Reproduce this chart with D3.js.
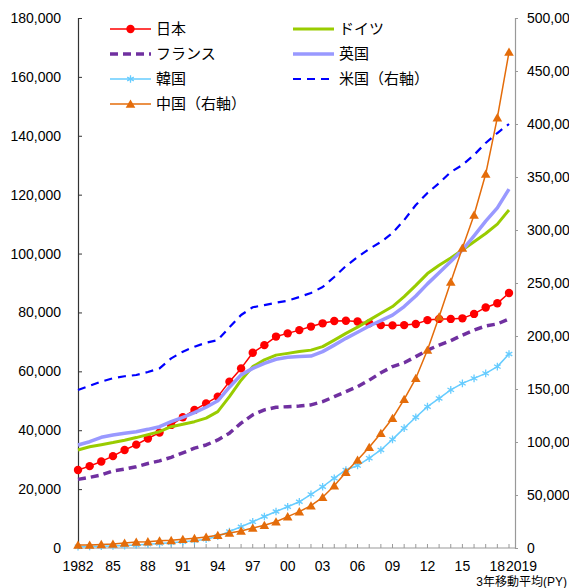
<!DOCTYPE html>
<html>
<head>
<meta charset="utf-8">
<script src="https://cdn.jsdelivr.net/npm/d3@7"></script>
<style>
  body { margin: 0; background: #fff; }
  svg { display: block; }
  text { font-family: "Liberation Sans", Arial, "Noto Sans CJK JP", sans-serif; fill: #000; }
</style>
</head>
<body>
<div id="chart"></div>
<script>
// data (3-year moving average, PY)
var years = [1982,1983,1984,1985,1986,1987,1988,1989,1990,1991,1992,1993,1994,1995,1996,1997,1998,1999,
             2000,2001,2002,2003,2004,2005,2006,2007,2008,2009,2010,2011,2012,2013,2014,2015,2016,2017,2018,2019];

var japan   = [26500,27800,29400,31200,33300,35100,37200,39200,41800,44400,46900,49100,51400,56500,61000,66300,68900,71800,
               72900,74000,75200,76300,77100,77200,76900,76300,75700,75600,75700,76100,77400,77800,77800,78000,79500,81700,83100,86600];
var germany = [33300,34400,35100,35800,36600,37500,38500,39500,41200,42000,42900,44100,46300,51400,57000,61600,63900,65500,
               66100,66700,67200,68400,70600,72900,75000,77400,79700,82000,85400,89200,93200,96000,98500,101200,104000,106800,110000,114800];
var france  = [23300,24000,24800,26200,26800,27600,28700,29600,30800,32300,33900,35000,36700,39000,42400,45200,46900,47800,
               48000,48200,48600,49700,51400,53100,54800,57000,59500,61600,62900,65000,67200,68900,70400,72300,74000,75400,76100,77800];
var uk      = [35000,36100,37600,38400,39000,39500,40300,41200,42900,44400,46000,47800,50000,54600,58800,61000,62700,64100,
               64800,65000,65200,66700,68900,71200,73300,75400,77200,79100,82000,85600,89700,93500,97300,101200,106000,111000,115500,121900];
var korea   = [450,500,580,680,820,1000,1250,1500,1800,2150,2500,3000,4000,5600,7200,8900,10700,12400,
               14000,15700,18200,20800,23700,26500,28000,30500,33300,36900,40700,44400,48000,50800,53700,55900,57600,59300,61600,65900];
// right axis
var usa     = [149000,153000,157000,160100,162000,163200,166000,169500,178900,185200,189900,193700,196200,208200,219800,227100,229200,231400,
               233300,236800,240600,246200,255700,266000,274500,282100,288700,297200,309400,323600,334900,344300,354700,361300,370800,382100,391500,400000];
var china   = [2800,2850,3400,3800,4700,5600,6000,6900,7200,8200,9100,10400,12000,14200,16000,18900,21400,24800,
               29600,34300,39900,47800,58800,71400,83000,95000,108200,122400,140300,160100,186800,218200,250900,283000,314200,352800,406000,467900];

var leftTicks  = [0,20000,40000,60000,80000,100000,120000,140000,160000,180000];
var rightTicks = [0,50000,100000,150000,200000,250000,300000,350000,400000,450000,500000];
var xTickYears  = [1982,1985,1988,1991,1994,1997,2000,2003,2006,2009,2012,2015,2018,2019];
var xTickLabels = ["1982","85","88","91","94","97","00","03","06","09","12","15","18","2019"];

var svgWidth = 569, svgHeight = 588;
var margin = ({top: 18, right: 54, bottom: 40, left: 78});

var svg = d3.select("#chart")
    .append("svg")
    .attr("width", svgWidth)
    .attr("height", svgHeight);

var xScale = d3.scaleLinear()
    .domain([1982, 2019])
    .range([margin.left, 509]);
var plotRight = svgWidth - margin.right;  // right axis line, x=515

var yLeft = d3.scaleLinear()
    .domain([0, 180000])
    .range([svgHeight - margin.bottom, margin.top]);
var yRight = d3.scaleLinear()
    .domain([0, 500000])
    .range([svgHeight - margin.bottom, margin.top]);

var fmt = d3.format(",");

// left axis
var leftAxis = svg.append("g")
    .attr("transform", "translate(" + margin.left + ",0)")
    .call(d3.axisRight(yLeft).tickValues(leftTicks).tickSize(4).tickFormat(""));
leftAxis.select(".domain").attr("stroke", "#333").attr("stroke-width", 1.2);
leftAxis.selectAll(".tick line").attr("stroke", "#333");
svg.selectAll(".leftLabel")
    .data(leftTicks)
    .enter()
    .append("text")
    .attr("x", 61)
    .attr("y", d => yLeft(d))
    .attr("dy", "0.36em")
    .attr("text-anchor", "end")
    .attr("font-size", 14)
    .text(d => fmt(d));

// right axis
var rightAxis = svg.append("g")
    .attr("transform", "translate(" + plotRight + ",0)")
    .call(d3.axisRight(yRight).tickValues(rightTicks).tickSize(3).tickFormat(""));
rightAxis.select(".domain").attr("stroke", "#999").attr("stroke-width", 1.2);
rightAxis.selectAll(".tick line").attr("stroke", "#999");
svg.selectAll(".rightLabel")
    .data(rightTicks)
    .enter()
    .append("text")
    .attr("x", 527)
    .attr("y", d => yRight(d))
    .attr("dy", "0.36em")
    .attr("font-size", 14)
    .text(d => fmt(d));

// x axis
var xAxisY = svgHeight - margin.bottom;
svg.append("line")
    .attr("x1", margin.left).attr("x2", plotRight)
    .attr("y1", xAxisY).attr("y2", xAxisY)
    .attr("stroke", "#999").attr("stroke-width", 1.2);
svg.selectAll(".xTick")
    .data(years)
    .enter()
    .append("line")
    .attr("x1", d => xScale(d)).attr("x2", d => xScale(d))
    .attr("y1", xAxisY).attr("y2", xAxisY - 4)
    .attr("stroke", "#999");
svg.selectAll(".xLabel")
    .data(xTickYears)
    .enter()
    .append("text")
    .attr("x", d => d === 2019 ? xScale(d) - 3 : xScale(d))
    .attr("y", 571)
    .attr("text-anchor", d => d === 2019 ? "start" : "middle")
    .attr("font-size", 14)
    .text((d, i) => xTickLabels[i]);

svg.append("text")
    .attr("x", 567)
    .attr("y", 586)
    .attr("text-anchor", "end")
    .attr("font-size", 12)
    .text("3年移動平均(PY)");

// series
var seriesList = [
    {name: "日本", values: japan, scale: yLeft, color: "#FF0000", width: 1.5, dash: null, marker: "circle"},
    {name: "ドイツ", values: germany, scale: yLeft, color: "#99CC00", width: 3, dash: null, marker: null},
    {name: "フランス", values: france, scale: yLeft, color: "#7030A0", width: 3.5, dash: "8,5", marker: null},
    {name: "英国", values: uk, scale: yLeft, color: "#9999FF", width: 3.5, dash: null, marker: null},
    {name: "韓国", values: korea, scale: yLeft, color: "#66CCFF", width: 1.5, dash: null, marker: "asterisk"},
    {name: "米国（右軸）", values: usa, scale: yRight, color: "#0000FF", width: 2.2, dash: "8,6", marker: null},
    {name: "中国（右軸）", values: china, scale: yRight, color: "#E46C0A", width: 1.5, dash: null, marker: "triangle"}
];

var triangle = d3.symbol().type(d3.symbolTriangle).size(40);
var asterisk = d3.symbol().type(d3.symbolAsterisk).size(40);

function drawMarker(g, type, color) {
    if (type === "circle") {
        g.append("circle").attr("r", 4.2).attr("fill", color);
    } else if (type === "triangle") {
        g.append("path").attr("d", triangle()).attr("fill", color).attr("transform", "translate(0,1)");
    } else if (type === "asterisk") {
        g.append("path").attr("d", asterisk()).attr("fill", "none").attr("stroke", color).attr("stroke-width", 1.3);
    }
}

seriesList.forEach(function(s) {
    var line = d3.line()
        .x((d, i) => xScale(years[i]))
        .y(d => s.scale(d));
    var g = svg.append("g");
    g.append("path")
        .datum(s.values)
        .attr("fill", "none")
        .attr("stroke", s.color)
        .attr("stroke-width", s.width)
        .attr("stroke-dasharray", s.dash)
        .attr("stroke-linejoin", "round")
        .attr("d", line);
    if (s.marker) {
        s.values.forEach(function(v, i) {
            var m = g.append("g").attr("transform", "translate(" + xScale(years[i]) + "," + s.scale(v) + ")");
            drawMarker(m, s.marker, s.color);
        });
    }
});

// legend: two columns
var legend = svg.append("g");
seriesList.forEach(function(s, i) {
    var col = i % 2, row = Math.floor(i / 2);
    var lx = col === 0 ? 110 : 293;
    var ly = 29 + row * 25;
    var item = legend.append("g").attr("transform", "translate(" + lx + "," + ly + ")");
    item.append("line")
        .attr("x1", 0).attr("x2", 41)
        .attr("stroke", s.color)
        .attr("stroke-width", s.width)
        .attr("stroke-dasharray", s.dash);
    if (s.marker) {
        var m = item.append("g").attr("transform", "translate(20.5,0)");
        drawMarker(m, s.marker, s.color);
    }
    item.append("text")
        .attr("x", 46)
        .attr("y", 0)
        .attr("dy", "0.35em")
        .attr("font-size", 15)
        .text(s.name);
});
</script>
</body>
</html>
